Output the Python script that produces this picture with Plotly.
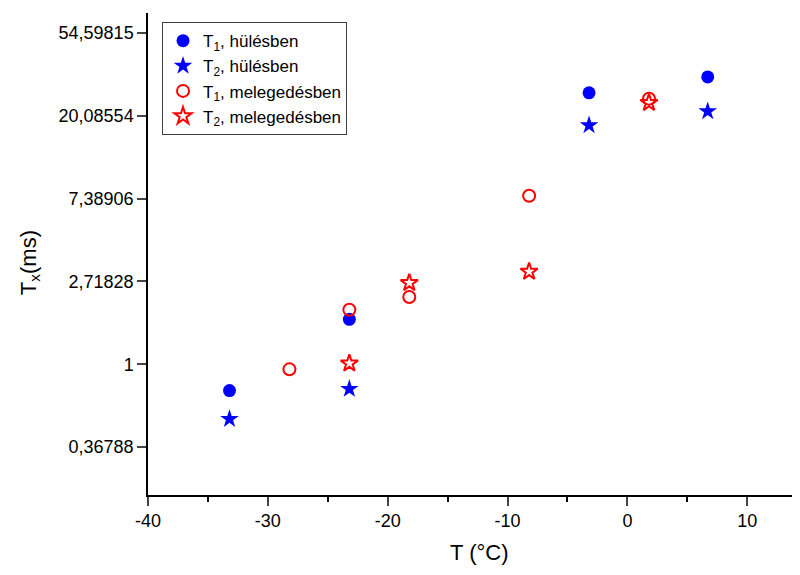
import plotly.graph_objects as go
import math

# Data
t1_cool_x = [-33.2, -23.2, -3.2, 6.7]
t1_cool_y = [0.727, 1.72, 26.5, 32.1]
t2_cool_x = [-33.2, -23.2, -3.2, 6.7]
t2_cool_y = [0.516, 0.742, 17.9, 21.2]
t1_warm_x = [-28.2, -23.2, -18.2, -8.2, 1.8]
t1_warm_y = [0.94, 1.93, 2.25, 7.65, 24.7]
t2_warm_x = [-23.2, -18.2, -8.2, 1.8]
t2_warm_y = [1.01, 2.67, 3.06, 23.5]

y_tick_vals = [math.exp(k) for k in range(-1, 5)]
y_tick_text = ["0,36788", "1", "2,71828", "7,38906", "20,08554", "54,59815"]
x_tick_vals = [-40, -30, -20, -10, 0, 10]
x_tick_text = ["-40", "-30", "-20", "-10", "0", "10"]

FONT = "Liberation Sans, Arial, sans-serif"

fig = go.Figure()
fig.add_trace(go.Scatter(x=t1_cool_x, y=t1_cool_y, mode="markers", name="T<sub>1</sub>, hülésben",
                         legendgroup="a",
                         marker=dict(symbol="circle", size=13, color="#0000FF", line=dict(width=0))))
fig.add_trace(go.Scatter(x=t2_cool_x, y=t2_cool_y, mode="markers", name="T<sub>2</sub>, hülésben",
                         legendgroup="b",
                         marker=dict(symbol="star", size=14, color="#0000FF", line=dict(width=0))))
fig.add_trace(go.Scatter(x=t1_warm_x, y=t1_warm_y, mode="markers", name="T<sub>1</sub>, melegedésben",
                         legendgroup="c",
                         marker=dict(symbol="circle-open", size=12, color="#FF0000", line=dict(width=2, color="#FF0000"))))
fig.add_trace(go.Scatter(x=t2_warm_x, y=t2_warm_y, mode="markers", name="T<sub>2</sub>, melegedésben",
                         legendgroup="d",
                         marker=dict(symbol="star-open", size=13, color="#FF0000", line=dict(width=2, color="#FF0000"))))

fig.update_layout(
    width=792, height=567,
    margin=dict(l=140, r=0, t=5, b=80),
    paper_bgcolor="white", plot_bgcolor="white",
    font=dict(family=FONT, size=18, color="black"),
    showlegend=True,
    legend=dict(x=0.0215, y=0.981, xanchor="left", yanchor="top",
                bordercolor="#404040", borderwidth=1, bgcolor="white",
                font=dict(family=FONT, size=17), tracegroupgap=0,
                itemsizing="trace", itemwidth=30),
    xaxis=dict(range=[-40, 14.4], tickvals=x_tick_vals, ticktext=x_tick_text, ticks="outside", ticklen=9, tickwidth=1.5,
               showline=True, linecolor="black", linewidth=1.5, showgrid=False, zeroline=False,
               minor=dict(dtick=5, ticks="outside", ticklen=5, tickwidth=1.5, tickcolor="black", showgrid=False),
               tickfont=dict(size=18), automargin=False),
    yaxis=dict(type="log", range=[-0.686, 1.842], tickvals=y_tick_vals, ticktext=y_tick_text,
               ticks="outside", ticklen=9, tickwidth=1.5,
               showline=True, linecolor="black", linewidth=1.5, showgrid=False, zeroline=False,
               tickfont=dict(size=18), automargin=False),
    annotations=[
        dict(text="T (°C)", xref="paper", yref="paper", x=0.509, y=-0.120,
             xanchor="center", yanchor="middle", showarrow=False, font=dict(size=22)),
        dict(text="T<sub>x</sub>(ms)", xref="paper", yref="paper", x=-0.181, y=0.483,
             xanchor="center", yanchor="middle", showarrow=False, textangle=-90, font=dict(size=22)),
    ],
)

fig.write_html("out.html")
